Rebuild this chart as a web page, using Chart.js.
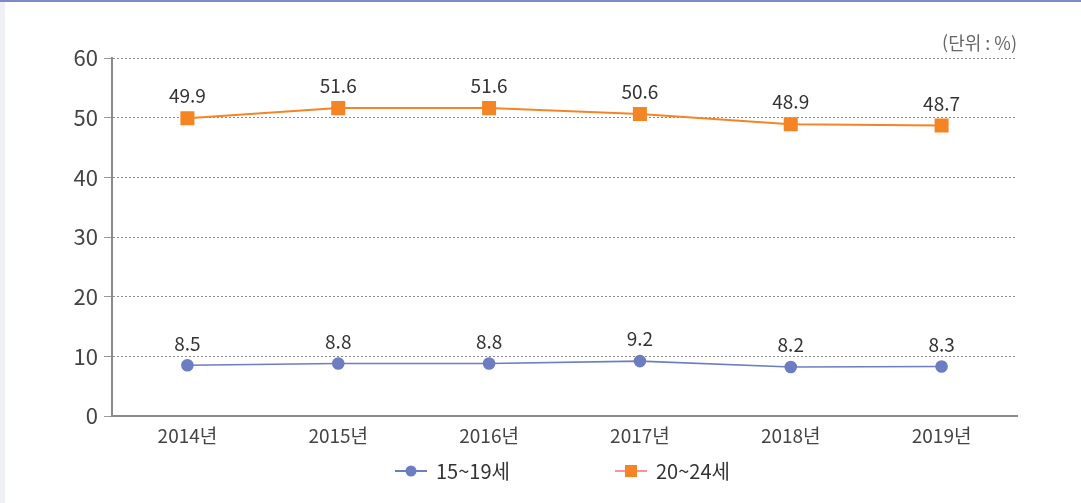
<!DOCTYPE html>
<html lang="ko">
<head>
<meta charset="utf-8">
<title>15~24세 비율</title>
<script src="https://cdn.jsdelivr.net/npm/chart.js@4"></script>
<style>
    html, body { margin: 0; padding: 0; background: #ffffff; }
    #wrap { width: 1081px; height: 503px; position: relative; }
</style>
</head>
<body>
<div id="wrap"><canvas id="chart" width="1081" height="503"></canvas></div>
<script>
// Data
const years = ['2014년', '2015년', '2016년', '2017년', '2018년', '2019년'];
const teens = [8.5, 8.8, 8.8, 9.2, 8.2, 8.3];
const twenties = [49.9, 51.6, 51.6, 50.6, 48.9, 48.7];
const seriesNames = ['15~19세', '20~24세'];
const unitText = '(단위 : %)';

const FONT = "'Noto Sans CJK KR', sans-serif";
const BLUE = '#6c7dc2';
const ORANGE = '#f58524';

/**
 * Page decoration: left strip, top rule, unit text
 */
const frame = {
    id: 'frame',
    beforeDraw(chart) {
        const ctx = chart.ctx;
        ctx.save();
        ctx.fillStyle = '#ffffff';
        ctx.fillRect(0, 0, chart.width, chart.height);
        ctx.fillStyle = '#eef0f6';
        ctx.fillRect(0, 0, 5, chart.height);
        ctx.fillStyle = '#7f89c6';
        ctx.fillRect(0, 0, chart.width, 2);
        ctx.restore();
    },
    afterDraw(chart) {
        const ctx = chart.ctx;
        const area = chart.chartArea;
        ctx.save();
        ctx.font = '18px ' + FONT;
        ctx.fillStyle = '#666';
        ctx.textAlign = 'right';
        ctx.textBaseline = 'middle';
        ctx.fillText(unitText, area.right, 43);
        ctx.restore();
    }
};

/**
 * Value labels above each point
 */
const valueLabels = {
    id: 'valueLabels',
    afterDatasetsDraw(chart) {
        const ctx = chart.ctx;
        ctx.save();
        ctx.font = '19px ' + FONT;
        ctx.fillStyle = '#333';
        ctx.textAlign = 'center';
        ctx.textBaseline = 'middle';
        chart.data.datasets.forEach((ds, i) => {
            chart.getDatasetMeta(i).data.forEach((pt, j) => {
                ctx.fillText(ds.data[j].toFixed(1), pt.x, pt.y - 22);
            });
        });
        ctx.restore();
    }
};

/**
 * Legend with line + marker
 */
const lineLegend = {
    id: 'lineLegend',
    afterDraw(chart) {
        const ctx = chart.ctx;
        const y = 471;
        const items = [
            { x: 395, ds: chart.data.datasets[0], lineColor: BLUE },
            { x: 615, ds: chart.data.datasets[1], lineColor: '#f4959b' }
        ];
        ctx.save();
        items.forEach(item => {
            ctx.strokeStyle = item.lineColor;
            ctx.lineWidth = 2;
            ctx.beginPath();
            ctx.moveTo(item.x, y);
            ctx.lineTo(item.x + 32, y);
            ctx.stroke();
            ctx.fillStyle = item.ds.pointBackgroundColor;
            if (item.ds.pointStyle === 'rect') {
                ctx.fillRect(item.x + 10, y - 6, 12, 12);
            } else {
                ctx.beginPath();
                ctx.arc(item.x + 16, y, 5.5, 0, Math.PI * 2);
                ctx.fill();
            }
            ctx.font = '20px ' + FONT;
            ctx.fillStyle = '#333';
            ctx.textAlign = 'left';
            ctx.textBaseline = 'middle';
            ctx.fillText(item.ds.label, item.x + 41, y);
        });
        ctx.restore();
    }
};

new Chart(document.getElementById('chart'), {
    type: 'line',
    data: {
        labels: years,
        datasets: [
            {
                label: seriesNames[0],
                data: teens,
                borderColor: BLUE,
                backgroundColor: BLUE,
                pointBackgroundColor: BLUE,
                pointBorderColor: BLUE,
                pointStyle: 'circle',
                pointRadius: 5.5,
                borderWidth: 1.6,
                tension: 0
            },
            {
                label: seriesNames[1],
                data: twenties,
                borderColor: ORANGE,
                backgroundColor: ORANGE,
                pointBackgroundColor: ORANGE,
                pointBorderColor: ORANGE,
                pointStyle: 'rect',
                pointRadius: 8.5,
                borderWidth: 2,
                tension: 0
            }
        ]
    },
    options: {
        responsive: false,
        animation: false,
        layout: {
            padding: { left: 0, right: 64, top: 58, bottom: 0 }
        },
        plugins: {
            legend: { display: false },
            tooltip: { enabled: false }
        },
        scales: {
            x: {
                offset: true,
                grid: { display: false, drawTicks: false },
                border: { display: true, color: '#8a8a8a', width: 2 },
                ticks: {
                    color: '#444',
                    font: { family: FONT, size: 19 },
                    padding: 8
                },
                afterFit(scale) { scale.height = 87; }
            },
            y: {
                min: 0,
                max: 60,
                ticks: {
                    stepSize: 10,
                    color: '#444',
                    font: { family: FONT, size: 22 },
                    padding: 6
                },
                grid: {
                    color: '#8a8a8a',
                    lineWidth: 1,
                    tickLength: 8,
                    tickColor: '#999',
                    tickBorderDash: [],
                    tickWidth: 1
                },
                border: { display: true, color: '#8a8a8a', width: 2, dash: [2, 2] },
                afterFit(scale) { scale.width = 112; }
            }
        }
    },
    plugins: [frame, valueLabels, lineLegend]
});
</script>
</body>
</html>
